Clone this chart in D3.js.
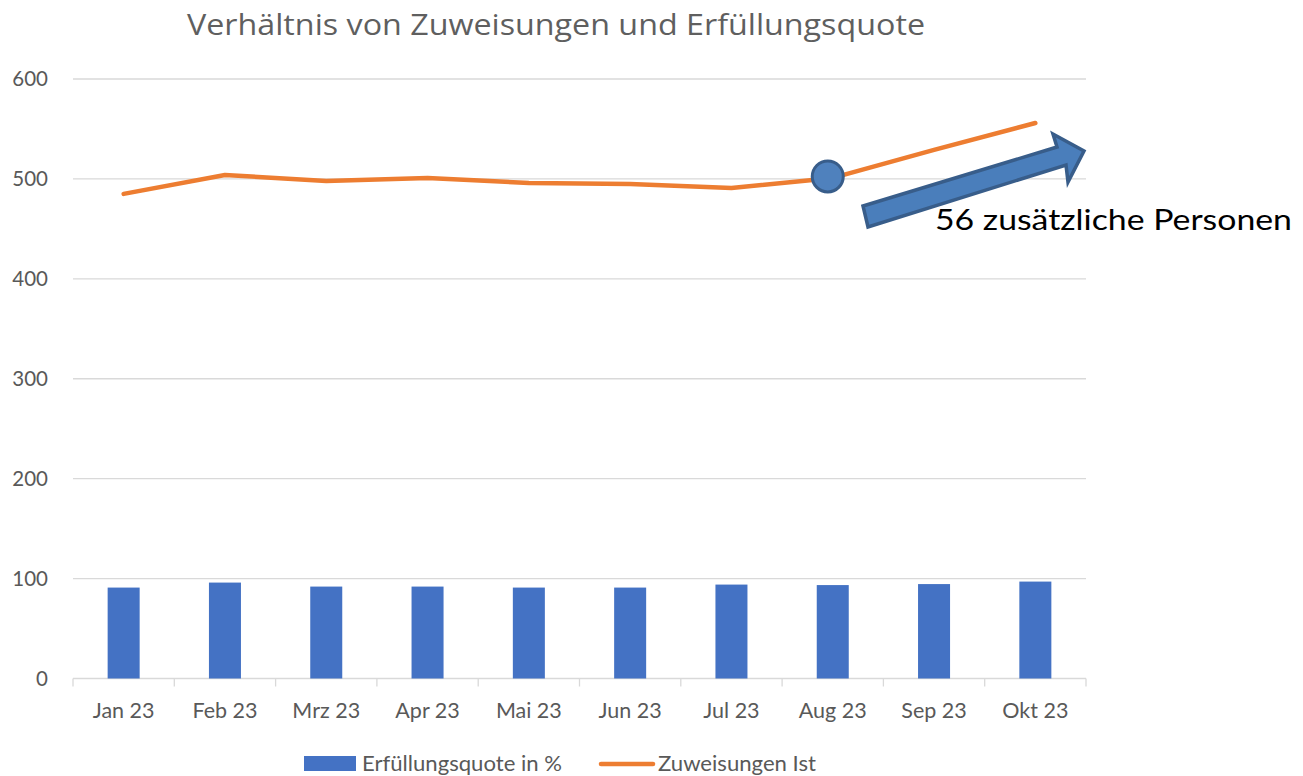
<!DOCTYPE html>
<html><head><meta charset="utf-8">
<script src="https://cdn.jsdelivr.net/npm/d3@7"></script>
<style>body{margin:0;background:#fff}svg{display:block}</style>
</head><body>
<svg id="c" width="1303" height="776"></svg>
<script>
const categories = ["Jan 23","Feb 23","Mrz 23","Apr 23","Mai 23","Jun 23","Jul 23","Aug 23","Sep 23","Okt 23"];
const quote = [91,96,92,92,91,91,94,93.5,94.5,97];
const zuweisungen = [485,504,498,501,496,495,491,501,529,556];
const yTicks = [0,100,200,300,400,500,600];
const titleText = "Verhältnis von Zuweisungen und Erfüllungsquote";
const annotationText = "56 zusätzliche Personen";
const legendLabels = ["Erfüllungsquote in %","Zuweisungen Ist"];

const svg = d3.select("#c");
const font = "Lato, 'Open Sans', sans-serif";
const grey = "#595959";
const x = d3.scaleBand().domain(categories).range([73,1086]).paddingInner(0.684).paddingOuter(0.342);
const xb = d3.scaleBand().domain(categories).range([73,1086]);
const y = d3.scaleLinear().domain([0,600]).range([678.5,79]);

// gridlines
svg.append("g").selectAll("line").data(yTicks.filter(d=>d>0)).join("line")
  .attr("x1",73).attr("x2",1086).attr("y1",d=>y(d)).attr("y2",d=>y(d))
  .attr("stroke","#d9d9d9").attr("stroke-width",1.3);

// y axis labels
const yAxis = svg.append("g").attr("transform","translate(60,0)")
  .call(d3.axisLeft(y).tickValues(yTicks).tickSize(0).tickPadding(12));
yAxis.select(".domain").remove();
yAxis.selectAll("text").attr("font-family",font).attr("font-size",20.5).attr("fill",grey);

// x axis
const xAxisG = svg.append("g").attr("transform",`translate(0,${y(0)})`);
xAxisG.append("line").attr("x1",73).attr("x2",1086).attr("stroke","#d9d9d9").attr("stroke-width",1.3);
xAxisG.selectAll("line.t").data(d3.range(categories.length+1)).join("line").attr("class","t")
  .attr("x1",i=>73+i*xb.step()).attr("x2",i=>73+i*xb.step()).attr("y1",0).attr("y2",8)
  .attr("stroke","#d9d9d9").attr("stroke-width",1.3);
xAxisG.selectAll("text").data(categories).join("text")
  .attr("x",d=>xb(d)+xb.bandwidth()/2).attr("y",39).attr("text-anchor","middle")
  .attr("font-family",font).attr("font-size",21.5).attr("fill",grey).text(d=>d);

// bars
svg.append("g").selectAll("rect").data(categories).join("rect")
  .attr("x",d=>x(d)).attr("width",x.bandwidth())
  .attr("y",(d,i)=>y(quote[i])).attr("height",(d,i)=>y(0)-y(quote[i]))
  .attr("fill","#4472C4");

// line
const line = d3.line().x((d,i)=>xb(categories[i])+xb.bandwidth()/2).y(d=>y(d));
svg.append("path").datum(zuweisungen).attr("d",line).attr("fill","none")
  .attr("stroke","#ED7D31").attr("stroke-width",4.5).attr("stroke-linejoin","round").attr("stroke-linecap","round");

// annotation circle at Aug
const aug = categories.indexOf("Aug 23");
svg.append("circle").attr("cx",xb(categories[aug])+xb.bandwidth()/2-5).attr("cy",y(zuweisungen[aug])-1.5)
  .attr("r",15.5).attr("fill","#4F81BD").attr("stroke","#385D8A").attr("stroke-width",3);

// block arrow
const arrowPts = [[863,206],[1057,147],[1053,134],[1084,151],[1068,182],[1066,165],[868,227]];
svg.append("polygon").attr("points",arrowPts.map(p=>p.join(",")).join(" "))
  .attr("fill","#4A7EBB").attr("stroke","#385D8A").attr("stroke-width",3.5).attr("stroke-linejoin","miter");

svg.append("text").attr("x",935).attr("y",230).attr("font-family","Lato, 'Noto Sans', sans-serif")
  .attr("font-size",28).attr("fill","#000").attr("textLength",357).attr("lengthAdjust","spacingAndGlyphs").text(annotationText);

// title
svg.append("text").attr("x",556).attr("y",35).attr("text-anchor","middle").attr("font-family","'Open Sans', sans-serif")
  .attr("font-size",30).attr("fill","#5f5f5f").attr("textLength",738).attr("lengthAdjust","spacingAndGlyphs").text(titleText);

// legend
const lg = svg.append("g");
lg.append("rect").attr("x",304).attr("y",756).attr("width",52).attr("height",15).attr("fill","#4472C4");
lg.append("text").attr("x",362).attr("y",771).attr("font-family",font).attr("font-size",21.5).attr("fill",grey)
  .attr("textLength",200).attr("lengthAdjust","spacingAndGlyphs").text(legendLabels[0]);
lg.append("line").attr("x1",601).attr("x2",653).attr("y1",764).attr("y2",764).attr("stroke","#ED7D31").attr("stroke-width",4.5).attr("stroke-linecap","round");
lg.append("text").attr("x",658).attr("y",771).attr("font-family",font).attr("font-size",21.5).attr("fill",grey)
  .attr("textLength",158).attr("lengthAdjust","spacingAndGlyphs").text(legendLabels[1]);
</script>
</body></html>
